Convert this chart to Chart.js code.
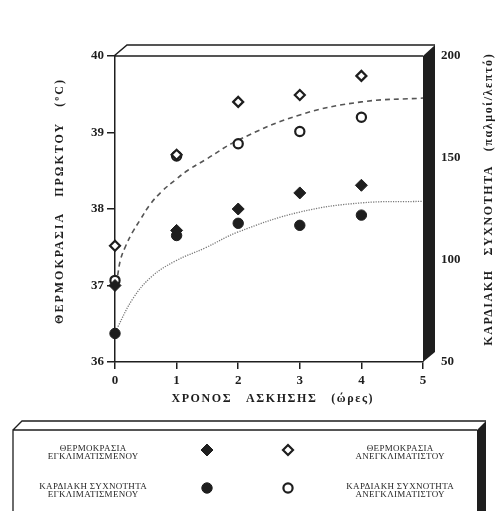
<!DOCTYPE html>
<html>
<head>
<meta charset="utf-8">
<script src="https://cdn.jsdelivr.net/npm/chart.js@4.4.1/dist/chart.umd.min.js"></script>
<style>
  html, body { margin: 0; padding: 0; background: #fff; }
  #wrap { width: 495px; height: 511px; position: relative; }
</style>
</head>
<body>
<div id="wrap"><canvas id="c"></canvas></div>
<script>
// measured points
const hours = [0, 1, 2, 3, 4];
const tempTrained = [37.0, 37.72, 38.0, 38.21, 38.31];
const tempUntrained = [37.52, 38.71, 39.4, 39.49, 39.74];
const hrTrained = [64, 112, 118, 117, 122];
const hrUntrained = [90, 151, 157, 163, 170];

// fitted curves (temperature axis)
const dashedHours = [0, 0.03, 0.09, 0.17, 0.28, 0.41, 0.57, 0.76, 0.98, 1.19, 1.46, 2, 3, 4, 5];
const dashedTemp = [37.02, 37.08, 37.34, 37.51, 37.69, 37.86, 38.06, 38.23, 38.38, 38.51, 38.64, 38.9, 39.23, 39.4, 39.45];
const dottedHours = [0, 0.04, 0.3, 0.6, 0.98, 1.46, 2, 3, 4, 5];
const dottedTemp = [36.37, 36.45, 36.84, 37.12, 37.32, 37.49, 37.7, 37.96, 38.08, 38.1];

const xTicks = [0, 1, 2, 3, 4, 5];
const leftTicks = [36, 37, 38, 39, 40];
const rightTicks = [50, 100, 150, 200];

const xTitle = 'ΧΡΟΝΟΣ   ΑΣΚΗΣΗΣ   (ώρες)';
const leftTitle = 'ΘΕΡΜΟΚΡΑΣΙΑ   ΠΡΩΚΤΟΥ   (ºC)';
const rightTitle = 'ΚΑΡΔΙΑΚΗ   ΣΥΧΝΟΤΗΤΑ   (παλμοί/λεπτό)';

const INK = '#1e1e1e';
const SERIF = '"Liberation Serif", "DejaVu Serif", serif';

const pts = (xs, ys) => xs.map((x, i) => ({ x, y: ys[i] }));

const markerFilled = { backgroundColor: INK, borderColor: INK, borderWidth: 1 };
const markerOpen = { backgroundColor: '#fff', borderColor: INK, borderWidth: 2.2 };

const datasets = [
  { label: 'ΘΕΡΜΟΚΡΑΣΙΑ|ΕΓΚΛΙΜΑΤΙΣΜΕΝΟΥ', data: pts(hours, tempTrained), yAxisID: 'y',
    pointStyle: 'rectRot', pointRadius: 6, ...markerFilled, legendCol: 0, legendRow: 0 },
  { label: 'ΘΕΡΜΟΚΡΑΣΙΑ|ΑΝΕΓΚΛΙΜΑΤΙΣΤΟΥ', data: pts(hours, tempUntrained), yAxisID: 'y',
    pointStyle: 'rectRot', pointRadius: 5, ...markerOpen, legendCol: 1, legendRow: 0 },
  { label: 'ΚΑΡΔΙΑΚΗ ΣΥΧΝΟΤΗΤΑ|ΕΓΚΛΙΜΑΤΙΣΜΕΝΟΥ', data: pts(hours, hrTrained), yAxisID: 'y1',
    pointStyle: 'circle', pointRadius: 5.2, ...markerFilled, legendCol: 0, legendRow: 1 },
  { label: 'ΚΑΡΔΙΑΚΗ ΣΥΧΝΟΤΗΤΑ|ΑΝΕΓΚΛΙΜΑΤΙΣΤΟΥ', data: pts(hours, hrUntrained), yAxisID: 'y1',
    pointStyle: 'circle', pointRadius: 4.6, ...markerOpen, legendCol: 1, legendRow: 1 },
  { label: 'dashed', data: pts(dashedHours, dashedTemp), yAxisID: 'y', showLine: true,
    pointRadius: 0, borderColor: '#555', borderWidth: 1.6, borderDash: [5, 4],
    tension: 0.4, order: 1 },
  { label: 'dotted', data: pts(dottedHours, dottedTemp), yAxisID: 'y', showLine: true,
    pointRadius: 0, borderColor: '#777', borderWidth: 1.3, borderDash: [1.2, 1.3],
    tension: 0.4, order: 1 },
];

function spacedText(ctx, text, x, y, spacing) {
  ctx.letterSpacing = spacing + 'px';
  const w = ctx.measureText(text).width - spacing;
  ctx.textAlign = 'left';
  ctx.fillText(text, x - w / 2, y);
  ctx.letterSpacing = '0px';
}

const framePlugin = {
  id: 'frame3d',
  afterDraw(chart) {
    const { ctx, chartArea: a } = chart;
    const d = 12, u = 11;
    ctx.save();
    ctx.strokeStyle = INK;
    ctx.fillStyle = INK;
    ctx.lineWidth = 1.5;
    // top face of the plot box
    ctx.beginPath();
    ctx.moveTo(a.left - 1, a.top);
    ctx.lineTo(a.right, a.top);
    ctx.moveTo(a.left - 1, a.top);
    ctx.lineTo(a.left + d, a.top - u);
    ctx.lineTo(a.right + d, a.top - u);
    ctx.stroke();
    // dark right face
    ctx.beginPath();
    ctx.moveTo(a.right, a.top);
    ctx.lineTo(a.right + d, a.top - u);
    ctx.lineTo(a.right + d, a.bottom - 10);
    ctx.lineTo(a.right, a.bottom);
    ctx.closePath();
    ctx.fill();

    // axis titles
    ctx.font = 'bold 12px ' + SERIF;
    ctx.textBaseline = 'middle';
    spacedText(ctx, xTitle, 272, 399, 1.6);
    ctx.save();
    ctx.translate(60, 202);
    ctx.rotate(-Math.PI / 2);
    spacedText(ctx, leftTitle, 0, 0, 2.0);
    ctx.restore();
    ctx.save();
    ctx.translate(489, 200);
    ctx.rotate(-Math.PI / 2);
    spacedText(ctx, rightTitle, 0, 0, 1.6);
    ctx.restore();

    // legend box
    const L = 13, R = 477, T = 430, dd = 9;
    const B = chart.height + 2;
    ctx.lineWidth = 1.3;
    ctx.beginPath();
    ctx.moveTo(L, B);
    ctx.lineTo(L, T);
    ctx.lineTo(R, T);
    ctx.moveTo(L, T);
    ctx.lineTo(L + dd, T - dd);
    ctx.lineTo(R + dd, T - dd);
    ctx.stroke();
    ctx.beginPath();
    ctx.moveTo(R, T);
    ctx.lineTo(R + dd, T - dd);
    ctx.lineTo(R + dd, B);
    ctx.lineTo(R, B);
    ctx.closePath();
    ctx.fill();

    const rowY = [453, 491];
    const markX = [207, 288];
    const textX = [93, 400];
    ctx.font = '9px ' + SERIF;
    chart.data.datasets.forEach((ds) => {
      if (ds.legendCol === undefined) return;
      const y = rowY[ds.legendRow];
      ctx.fillStyle = ds.backgroundColor;
      ctx.strokeStyle = ds.borderColor;
      ctx.lineWidth = ds.borderWidth;
      Chart.helpers.drawPoint(ctx, {
        pointStyle: ds.pointStyle, radius: ds.pointRadius, borderWidth: ds.borderWidth, rotation: 0,
      }, markX[ds.legendCol], y - 3);
      ctx.fillStyle = INK;
      const lines = ds.label.split('|');
      spacedText(ctx, lines[0], textX[ds.legendCol], y - 4, 0.3);
      spacedText(ctx, lines[1], textX[ds.legendCol], y + 4, 0.3);
    });
    ctx.restore();
  },
};

const tickFont = { family: SERIF, size: 13, weight: 'bold' };

new Chart(document.getElementById('c'), {
  type: 'scatter',
  data: { datasets },
  options: {
    responsive: true,
    maintainAspectRatio: false,
    animation: false,
    layout: { padding: { top: 56, left: 0, right: 0, bottom: 0 } },
    plugins: { legend: { display: false }, tooltip: { enabled: false } },
    elements: { line: { fill: false } },
    datasets: { scatter: { clip: false } },
    scales: {
      x: {
        type: 'linear', min: 0, max: 5,
        afterBuildTicks: (s) => { s.ticks = xTicks.map((v) => ({ value: v })); },
        afterFit: (s) => { s.height = 149; },
        ticks: { font: tickFont, color: INK, padding: 4 },
        grid: { drawOnChartArea: false, tickLength: 7, color: INK, lineWidth: 1.5 },
        border: { color: INK, width: 1.5 },
      },
      y: {
        type: 'linear', position: 'left', min: 36, max: 40,
        afterBuildTicks: (s) => { s.ticks = leftTicks.map((v) => ({ value: v })); },
        afterFit: (s) => { s.width = 115; },
        ticks: { font: tickFont, color: INK, padding: 3 },
        grid: { drawOnChartArea: false, tickLength: 8, color: INK, lineWidth: 1.5 },
        border: { color: INK, width: 1.5 },
      },
      y1: {
        type: 'linear', position: 'right', min: 50, max: 200,
        afterBuildTicks: (s) => { s.ticks = rightTicks.map((v) => ({ value: v })); },
        afterFit: (s) => { s.width = 72; },
        ticks: { font: tickFont, color: INK, padding: 18 },
        grid: { display: false, drawTicks: false, tickLength: 0 },
        border: { display: false },
      },
    },
  },
  plugins: [framePlugin],
});
</script>
</body>
</html>
